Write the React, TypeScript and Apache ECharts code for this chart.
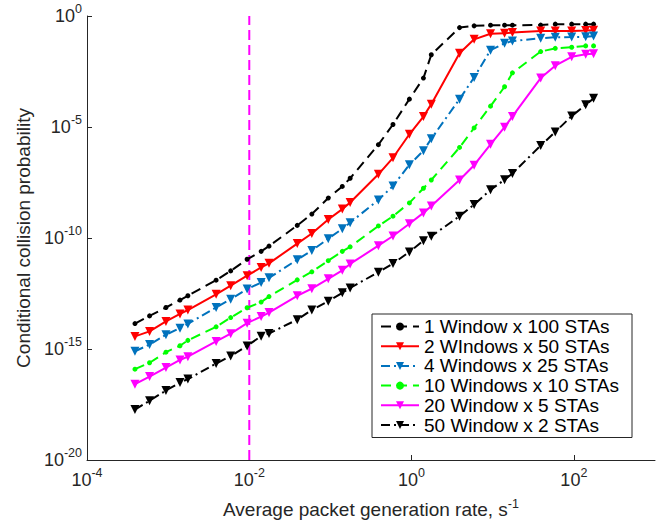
import React, { useEffect, useRef } from "react";
import * as echarts from "echarts";

// Average packet generation rate (s^-1)
const xRate = [
  3.9e-4, 5.9e-4, 9.4e-4, 1.4e-3, 1.75e-3, 3.9e-3, 5.9e-3, 9.4e-3, 1.4e-2, 1.75e-2,
  3.9e-2, 5.9e-2, 9.4e-2, 0.14, 0.175, 0.39, 0.59, 0.94, 1.4, 1.75,
  3.9, 5.9, 9.4, 14, 17.5, 39, 59, 94, 140, 175,
];

const s1w100 = [
  1.4e-14, 3.1e-14, 7.4e-14, 1.6e-13, 2.5e-13, 1.26e-12, 3.3e-12, 1.1e-11, 2.5e-11, 4.3e-11,
  3.7e-10, 1.2e-9, 6.3e-9, 2.1e-8, 4.9e-8, 1.6e-6, 1.3e-5, 1.8e-4, 1.6e-3, 1.8e-2,
  0.3, 0.36, 0.385, 0.385, 0.385, 0.39, 0.43, 0.43, 0.43, 0.43,
];
const s2w50 = [
  3.7e-15, 6.2e-15, 1.74e-14, 3.8e-14, 5.7e-14, 2.9e-13, 7.1e-13, 2.0e-12, 4.7e-12, 7.2e-12,
  5.6e-11, 1.6e-10, 6.8e-10, 2.0e-9, 4.0e-9, 7.4e-8, 4.1e-7, 4.7e-6, 2.95e-5, 1.07e-4,
  2.1e-2, 8.9e-2, 0.158, 0.165, 0.18, 0.21, 0.21, 0.21, 0.22, 0.23,
];
const s4w25 = [
  7.9e-16, 1.58e-15, 4.4e-15, 8.7e-15, 1.35e-14, 7.4e-14, 1.74e-13, 5.0e-13, 9.8e-13, 1.6e-12,
  1.05e-11, 2.75e-11, 9.3e-11, 2.6e-10, 4.9e-10, 5.2e-9, 2.2e-8, 2.0e-7, 8.5e-7, 2.95e-6,
  1.8e-4, 1.7e-3, 2.9e-2, 5.9e-2, 7.4e-2, 9.9e-2, 0.11, 0.112, 0.116, 0.125,
];
const s10w10 = [
  1.23e-16, 2.4e-16, 7.2e-16, 1.4e-15, 2.45e-15, 1.0e-14, 2.6e-14, 7.2e-14, 1.3e-13, 2.3e-13,
  1.3e-12, 3.0e-12, 9.5e-12, 2.5e-11, 4.0e-11, 3.5e-10, 9.6e-10, 3.8e-9, 1.74e-8, 4.1e-8,
  1.2e-6, 9.1e-6, 8.7e-5, 6.5e-4, 2.75e-3, 2.5e-2, 3.5e-2, 3.9e-2, 4.5e-2, 4.5e-2,
];
const s20w5 = [
  2.6e-17, 5.7e-17, 1.45e-16, 3.2e-16, 4.5e-16, 2.2e-15, 4.9e-15, 1.45e-14, 2.9e-14, 4.4e-14,
  2.5e-13, 5.2e-13, 1.45e-12, 3.5e-12, 6.8e-12, 4.5e-11, 1.23e-10, 4.4e-10, 1.35e-9, 2.75e-9,
  4.1e-8, 1.9e-7, 1.66e-6, 9.8e-6, 3.0e-5, 1.6e-3, 5.8e-3, 1.45e-2, 1.9e-2, 2.0e-2,
];
const s50w2 = [
  1.86e-18, 4.7e-18, 1.35e-17, 3.1e-17, 4.4e-17, 2.2e-16, 4.8e-16, 1.38e-15, 3.8e-15, 5.0e-15,
  2.1e-14, 5.7e-14, 1.4e-13, 3.4e-13, 5.6e-13, 2.9e-12, 7.1e-12, 2.35e-11, 7.6e-11, 1.2e-10,
  9.6e-10, 3.2e-9, 1.48e-8, 4.2e-8, 8.1e-8, 1.45e-6, 6.0e-6, 3.1e-5, 1.0e-4, 1.95e-4,
];

const seriesNames = [
  "1 Window x 100 STAs",
  "2 WIndows x 50 STAs",
  "4 Windows x 25 STAs",
  "10 Windows x 10 STAs",
  "20 Window x 5 STAs",
  "50 Window x 2 STAs",
];

const markerX = [0.01, 0.01];
const markerY = [1e-20, 1];

const FONT = "'Liberation Sans', Arial, Helvetica, sans-serif";
const AXIS = "#262626";

function fmtPow(v: number) {
  const e = Math.round(Math.log10(v));
  return `{b|10}{s|${e}}`;
}

const richLabel = {
  b: { fontSize: 18, fontFamily: FONT, color: AXIS },
  s: { fontSize: 12.5, fontFamily: FONT, color: AXIS, padding: [0, 0, 14, 0] },
};

export default function App() {
  const ref = useRef<HTMLDivElement>(null);
  useEffect(() => {
    const chart = echarts.init(ref.current!, null, { renderer: "svg" });
    const mk = (
      name: string,
      vals: number[],
      color: string,
      type: any,
      symbol: string,
      size: number,
      rotate: number
    ) => ({
      name,
      type: "line",
      data: xRate.map((x, i) => [x, vals[i]]),
      symbol,
      symbolSize: size,
      symbolRotate: rotate,
      showSymbol: true,
      lineStyle: { color, width: 2, type },
      itemStyle: { color },
      emphasis: { disabled: true },
    });
    const dash = [10, 6];
    const dashDot = [9, 4, 2, 4];
    const option: any = {
      animation: false,
      grid: { left: 87, right: 8, top: 16, bottom: 60 },
      xAxis: {
        type: "log",
        logBase: 10,
        min: 1e-4,
        max: 1e3,
        interval: 2,
        name: "Average packet generation rate, s{s|-1}",
        nameLocation: "middle",
        nameGap: 37,
        nameTextStyle: {
          fontSize: 19,
          fontFamily: FONT,
          color: AXIS,
          rich: { s: { fontSize: 12.5, fontFamily: FONT, color: AXIS, padding: [0, 0, 12, 0] } },
        },
        axisLine: { show: true, lineStyle: { color: AXIS, width: 1 } },
        axisTick: { show: true, inside: true, length: 5, lineStyle: { color: AXIS } },
        axisLabel: {
          formatter: fmtPow,
          rich: richLabel,
          margin: 6,
          showMaxLabel: false,
        },
        splitLine: { show: false },
        minorTick: { show: false },
      },
      yAxis: {
        type: "log",
        logBase: 10,
        min: 1e-20,
        max: 1,
        interval: 5,
        name: "Conditional collision probability",
        nameLocation: "middle",
        nameGap: 54,
        nameTextStyle: { fontSize: 19, fontFamily: FONT, color: AXIS },
        axisLine: { show: true, lineStyle: { color: AXIS, width: 1 } },
        axisTick: { show: true, inside: true, length: 5, lineStyle: { color: AXIS } },
        axisLabel: { formatter: fmtPow, rich: richLabel, margin: 5 },
        splitLine: { show: false },
      },
      legend: {
        orient: "vertical",
        left: 372,
        top: 314,
        itemWidth: 38,
        itemHeight: 10,
        itemGap: 0.7,
        padding: [3, 13, 3, 8],
        borderColor: AXIS,
        borderWidth: 1,
        backgroundColor: "#ffffff",
        borderRadius: 0,
        data: seriesNames,
        textStyle: { fontSize: 19, fontFamily: FONT, color: "#000" },
        selectedMode: false,
      },
      series: [
        {
          name: "marker",
          type: "line",
          data: markerX.map((x, i) => [x, markerY[i]]),
          showSymbol: false,
          symbol: "none",
          lineStyle: { color: "#FF00FF", width: 2, type: [10, 5] },
          z: 1,
        },
        mk(seriesNames[0], s1w100, "#000000", dash, "circle", 5, 0),
        mk(seriesNames[1], s2w50, "#FF0000", "solid", "triangle", 9, 180),
        mk(seriesNames[2], s4w25, "#0072BD", dashDot, "triangle", 9, 180),
        mk(seriesNames[3], s10w10, "#00FF00", dash, "circle", 5, 0),
        mk(seriesNames[4], s20w5, "#FF00FF", "solid", "triangle", 9, 180),
        mk(seriesNames[5], s50w2, "#000000", dashDot, "triangle", 9, 180),
      ],
    };
    chart.setOption(option);
    return () => chart.dispose();
  }, []);
  return (
    <div
      ref={ref}
      style={{ position: "absolute", left: 0, top: 0, width: 663, height: 524, background: "#fff" }}
    />
  );
}
